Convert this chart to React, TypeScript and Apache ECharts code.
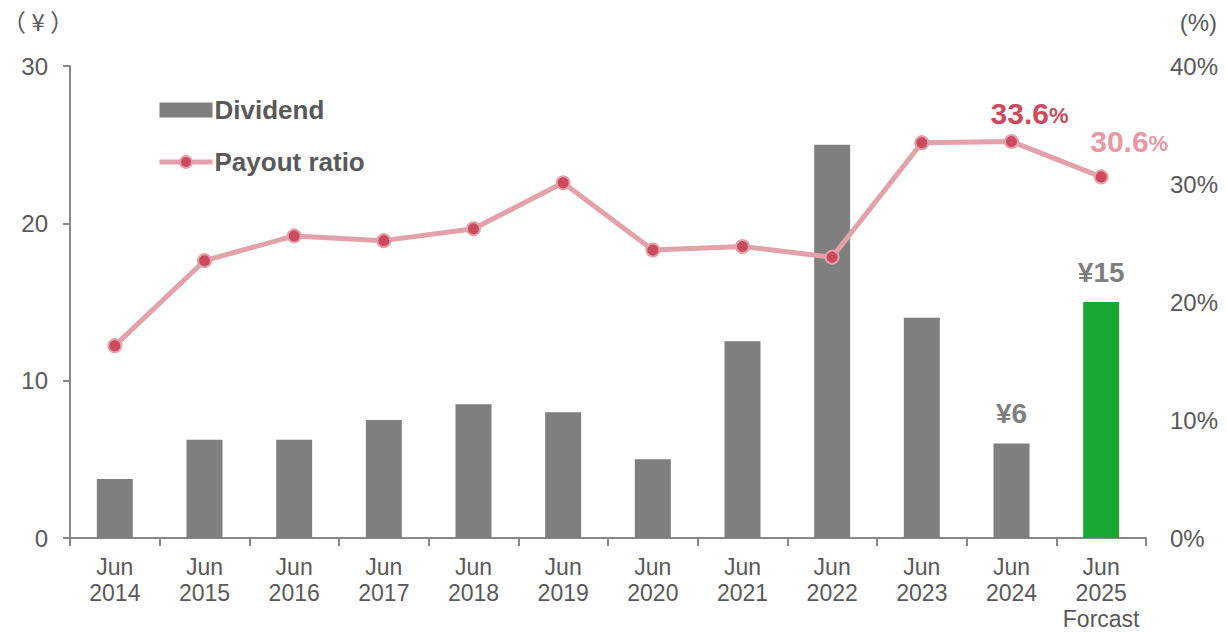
import React, { useEffect, useRef } from "react";
import * as echarts from "echarts";

const categories = ["Jun\n2014", "Jun\n2015", "Jun\n2016", "Jun\n2017", "Jun\n2018", "Jun\n2019", "Jun\n2020", "Jun\n2021", "Jun\n2022", "Jun\n2023", "Jun\n2024", "Jun\n2025\nForcast"];
const dividend = [3.75, 6.25, 6.25, 7.5, 8.5, 8, 5, 12.5, 25, 14, 6, 15];
const payout = [16.3, 23.5, 25.6, 25.2, 26.2, 30.1, 24.4, 24.7, 23.8, 33.5, 33.6, 30.6];
const leftTicks = [0, 10, 20, 30];
const rightTicks = [0, 10, 20, 30, 40];

const FONT = "'Liberation Sans', Arial, sans-serif";
const GRAY_TXT = "#595959";
const BAR = "#7f7f7f";
const GREEN = "#18a833";
const LINE = "#e3a1a9";
const DOT = "#cd4a5e";

export default function App() {
  const ref = useRef<HTMLDivElement>(null);
  useEffect(() => {
    const chart = echarts.init(ref.current!, null, { renderer: "svg" });
    const n = categories.length;
    const barData = dividend.map((v, i) => {
      const item: any = { value: v };
      if (i === n - 1) item.itemStyle = { color: GREEN };
      if (i === n - 2 || i === n - 1) {
        item.label = {
          show: true,
          position: "top",
          distance: 16,
          formatter: "¥{c}",
          fontSize: 28,
          fontWeight: "bold",
          color: BAR,
          fontFamily: FONT,
        };
      }
      return item;
    });
    const lineData = payout.map((v, i) => {
      const item: any = { value: v };
      if (i === n - 2 || i === n - 1) {
        const last = i === n - 1;
        const c = last ? "#e699a3" : DOT;
        item.label = {
          show: true,
          position: "top",
          distance: last ? 13 : 6,
          offset: last ? [28, 0] : [18, 0],
          formatter: (p: any) => `{v|${p.value.toFixed(1)}}{p|%}`,
          rich: {
            v: { fontSize: 30, fontWeight: "bold", color: c, fontFamily: FONT },
            p: { fontSize: 22, fontWeight: "bold", color: c, fontFamily: FONT, padding: [5, 0, 0, 0] },
          },
        };
      }
      return item;
    });
    chart.setOption({
      animation: false,
      textStyle: { fontFamily: FONT },
      grid: { left: 70, right: 81, top: 66, bottom: 92, containLabel: false },
      legend: {
        orient: "vertical",
        left: 152,
        top: 92,
        itemWidth: 53,
        itemHeight: 15,
        itemGap: 26,
        textStyle: { fontSize: 26, fontWeight: "bold", color: GRAY_TXT, fontFamily: FONT, padding: [0, 0, 0, -3] },
        data: [
          { name: "Dividend", icon: "rect", itemStyle: { color: BAR } },
          {
            name: "Payout ratio",
            lineStyle: { width: 5, color: LINE },
            itemStyle: { color: DOT, borderColor: LINE, borderWidth: 2 },
          },
        ],
      },
      graphic: [
        { type: "text", left: 2, top: 8, style: { text: "（ ¥ ）", fontSize: 24, fill: GRAY_TXT, fontFamily: "'Noto Sans CJK JP', sans-serif" } },
        { type: "text", right: 10, top: 10, style: { text: "(%)", fontSize: 24, fill: GRAY_TXT, fontFamily: FONT } },
      ],
      xAxis: {
        type: "category",
        data: categories,
        axisLine: { show: true, lineStyle: { color: "#888888", width: 2 } },
        axisTick: { show: true, length: 8, lineStyle: { color: "#888888", width: 2 } },
        axisLabel: { fontSize: 23, color: GRAY_TXT, lineHeight: 26, margin: 16, fontFamily: FONT, interval: 0 },
      },
      yAxis: [
        {
          type: "value",
          min: 0,
          max: 30,
          interval: 10,
          axisLine: { show: true, lineStyle: { color: "#888888", width: 2 } },
          axisTick: { show: true, length: 7, lineStyle: { color: "#888888", width: 2 } },
          splitLine: { show: false },
          axisLabel: { fontSize: 24, color: GRAY_TXT, margin: 22, fontFamily: FONT, formatter: (v: number) => (leftTicks.includes(v) ? String(v) : "") },
        },
        {
          type: "value",
          min: 0,
          max: 40,
          interval: 10,
          position: "right",
          axisLine: { show: false },
          axisTick: { show: false },
          splitLine: { show: false },
          axisLabel: { fontSize: 24, color: GRAY_TXT, margin: 24, fontFamily: FONT, formatter: (v: number) => (rightTicks.includes(v) ? v + "%" : "") },
        },
      ],
      series: [
        {
          name: "Dividend",
          type: "bar",
          yAxisIndex: 0,
          barWidth: 36,
          itemStyle: { color: BAR },
          data: barData,
        },
        {
          name: "Payout ratio",
          type: "line",
          yAxisIndex: 1,
          symbol: "circle",
          symbolSize: 13,
          lineStyle: { color: LINE, width: 5 },
          itemStyle: { color: DOT, borderColor: LINE, borderWidth: 2 },
          data: lineData,
          z: 3,
        },
      ],
    });
    return () => chart.dispose();
  }, []);
  return <div ref={ref} style={{ position: "fixed", left: 0, top: 0, width: 1227, height: 632, background: "#fff" }} />;
}
